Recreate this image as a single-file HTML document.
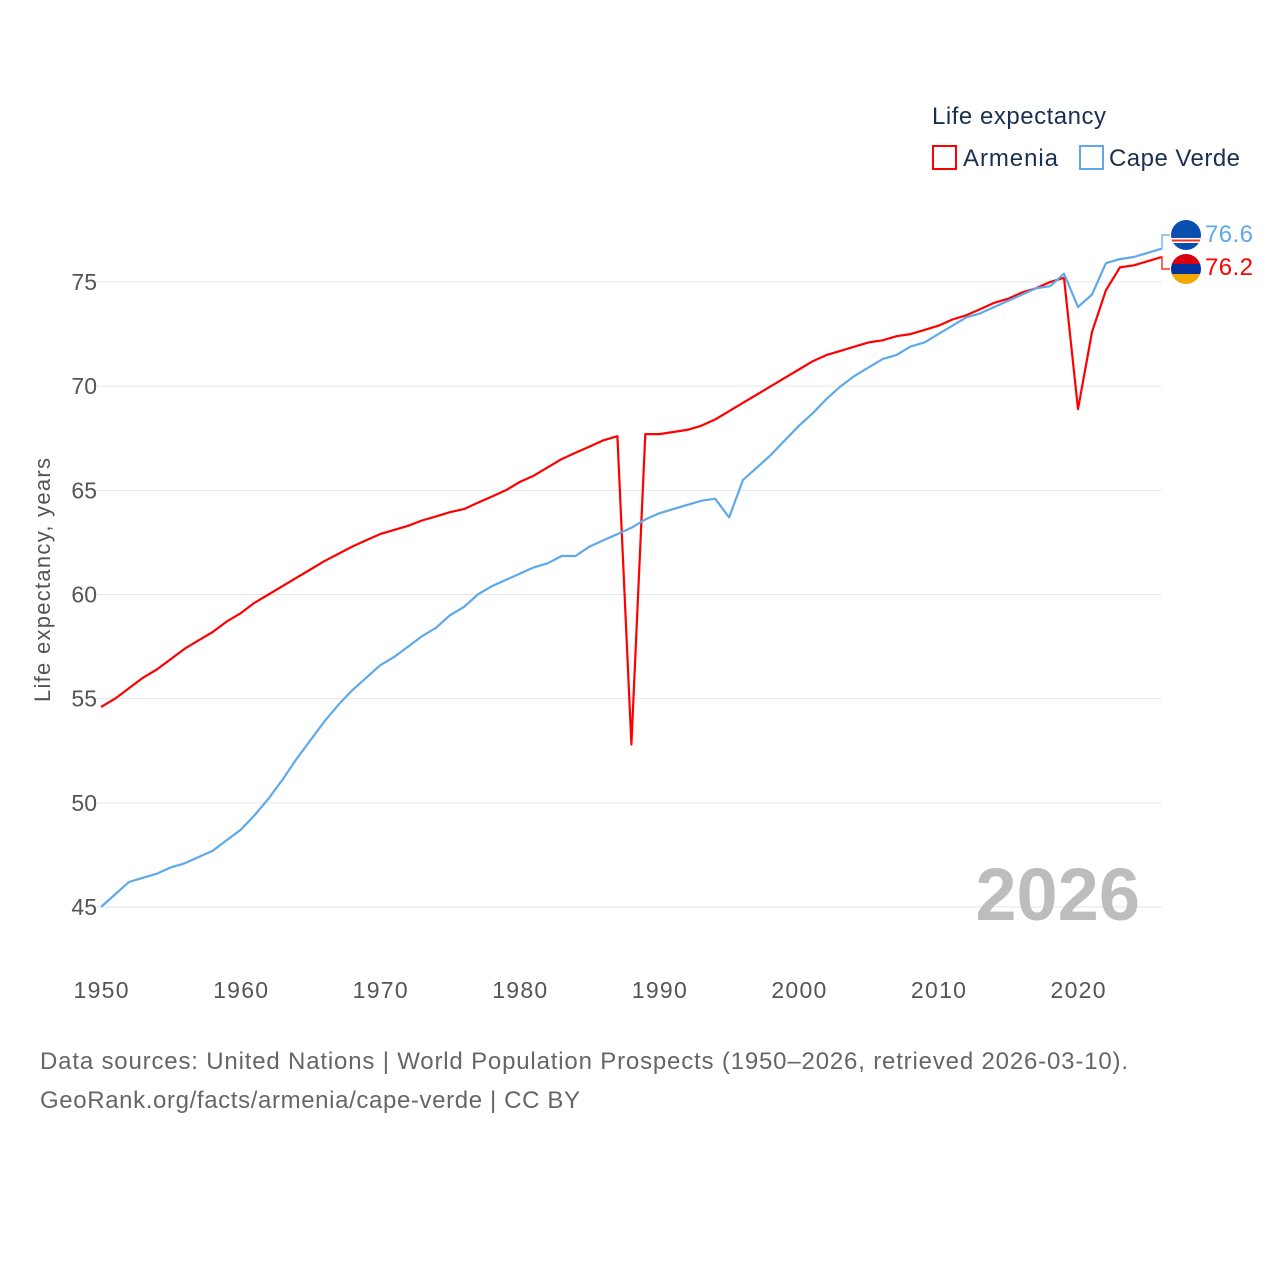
<!DOCTYPE html>
<html><head><meta charset="utf-8"><style>
body{margin:0;background:#fff;width:1280px;height:1280px;overflow:hidden}
svg text{font-family:"Liberation Sans",sans-serif}
</style></head><body>
<svg id="chart" width="1280" height="1280" xmlns="http://www.w3.org/2000/svg">
<g id="grid"></g>
<g id="yticks"></g>
<g id="xticks"></g>
<text x="50" y="580" transform="rotate(-90 50 580)" text-anchor="middle" font-size="22" fill="#555" textLength="244">Life expectancy, years</text>
<text x="1140" y="920" text-anchor="end" font-size="74" font-weight="bold" fill="#bdbdbd">2026</text>
<g id="series"></g>
<g>
<text x="932" y="124" font-size="24" fill="#1b2f4f" textLength="174">Life expectancy</text>
<g><rect x="933" y="146" width="23" height="23" fill="none" stroke="#ff0000" stroke-width="2"/><text x="963" y="166" font-size="24" fill="#1b2f4f" textLength="95">Armenia</text></g>
<g><rect x="1080" y="146" width="23" height="23" fill="none" stroke="#5fa8ea" stroke-width="2"/><text x="1109" y="166" font-size="24" fill="#1b2f4f" textLength="131">Cape Verde</text></g>
</g>
<g>
<clipPath id="c1"><circle cx="1186" cy="235" r="15"/></clipPath>
<g clip-path="url(#c1)"><rect x="1170" y="219" width="32" height="32" fill="#0a4fb0"/><rect x="1170" y="238" width="32" height="5" fill="#fff"/><rect x="1170" y="239.5" width="32" height="2" fill="#e32"/></g></g>
<g>
<clipPath id="c2"><circle cx="1186" cy="269" r="15"/></clipPath>
<g clip-path="url(#c2)"><rect x="1170" y="253" width="32" height="11" fill="#d90012"/><rect x="1170" y="264" width="32" height="10" fill="#0033a0"/><rect x="1170" y="274" width="32" height="12" fill="#f2a800"/></g></g>
<text x="1205" y="242" font-size="24" fill="#5fa8ea" textLength="48">76.6</text>
<text x="1205" y="275" font-size="24" fill="#ff0000" textLength="48">76.2</text>
<text x="40" y="1069" font-size="24" fill="#666" textLength="1088">Data sources: United Nations | World Population Prospects (1950–2026, retrieved 2026-03-10).</text>
<text x="40" y="1108" font-size="24" fill="#666" textLength="540">GeoRank.org/facts/armenia/cape-verde | CC BY</text>
</svg>
<script>
const years=[];for(let y=1950;y<=2026;y++)years.push(y);
const armenia=[54.6,55.0,55.5,56.0,56.4,56.9,57.4,57.8,58.2,58.7,59.1,59.6,60.0,60.4,60.8,61.2,61.6,61.95,62.3,62.6,62.9,63.1,63.3,63.55,63.75,63.95,64.1,64.4,64.7,65.0,65.4,65.7,66.1,66.5,66.8,67.1,67.4,67.6,52.8,67.7,67.7,67.8,67.9,68.1,68.4,68.8,69.2,69.6,70.0,70.4,70.8,71.2,71.5,71.7,71.9,72.1,72.2,72.4,72.5,72.7,72.9,73.2,73.4,73.7,74.0,74.2,74.5,74.7,75.0,75.2,68.9,72.6,74.6,75.7,75.8,76.0,76.2];
const capeVerde=[45.0,45.6,46.2,46.4,46.6,46.9,47.1,47.4,47.7,48.2,48.7,49.4,50.2,51.1,52.1,53.0,53.9,54.7,55.4,56.0,56.6,57.0,57.5,58.0,58.4,59.0,59.4,60.0,60.4,60.7,61.0,61.3,61.5,61.85,61.85,62.3,62.6,62.9,63.2,63.6,63.9,64.1,64.3,64.5,64.6,63.7,65.5,66.1,66.7,67.4,68.1,68.7,69.4,70.0,70.5,70.9,71.3,71.5,71.9,72.1,72.5,72.9,73.3,73.5,73.8,74.1,74.4,74.7,74.8,75.4,73.8,74.4,75.9,76.1,76.2,76.4,76.6];
const yTicks=[45,50,55,60,65,70,75];
const xTicks=[1950,1960,1970,1980,1990,2000,2010,2020];
const NS="http://www.w3.org/2000/svg";
const X=y=>101+(y-1950)*(1078-101)/70;
const Y=v=>907-(v-45)*(907-282)/30;
function mk(t,a,p){const e=document.createElementNS(NS,t);for(const k in a)e.setAttribute(k,a[k]);p.appendChild(e);return e;}
const grid=document.getElementById('grid'),yt=document.getElementById('yticks'),xt=document.getElementById('xticks'),ser=document.getElementById('series');
yTicks.forEach(v=>{
 const l=mk('line',{x1:95,x2:1162,y1:Y(v),y2:Y(v),stroke:'#e6e6e6','stroke-width':1},grid);
 
 
 const t=mk('text',{x:97,y:Y(v)+8,'text-anchor':'end','font-size':23,fill:'#555'},yt);
 t.textContent=v;
 
 
});
xTicks.forEach(v=>{
 const t=mk('text',{x:X(v),y:998,'text-anchor':'middle','font-size':23,fill:'#555',textLength:55},xt);
 t.textContent=v;
 
 
});
function line(vals,color,name,labelY){
 const d=vals.map((v,i)=>(i?'L':'M')+X(years[i]).toFixed(1)+' '+Y(v).toFixed(1)).join(' ');
 const p=mk('path',{d:d,fill:'none',stroke:color,'stroke-width':2.2,'stroke-linejoin':'round'},ser);
 
 
 const lx=X(years[years.length-1]),ly=Y(vals[vals.length-1]);
 const c=mk('path',{d:`M${lx} ${ly} L1162 ${ly} L1162 ${labelY} L1170 ${labelY}`,fill:'none',stroke:color,'stroke-width':1.2},ser);
 
 
}
line(armenia,'#ff0000','armenia',269);
line(capeVerde,'#5fa8ea','cape-verde',235);
</script>
</body></html>
